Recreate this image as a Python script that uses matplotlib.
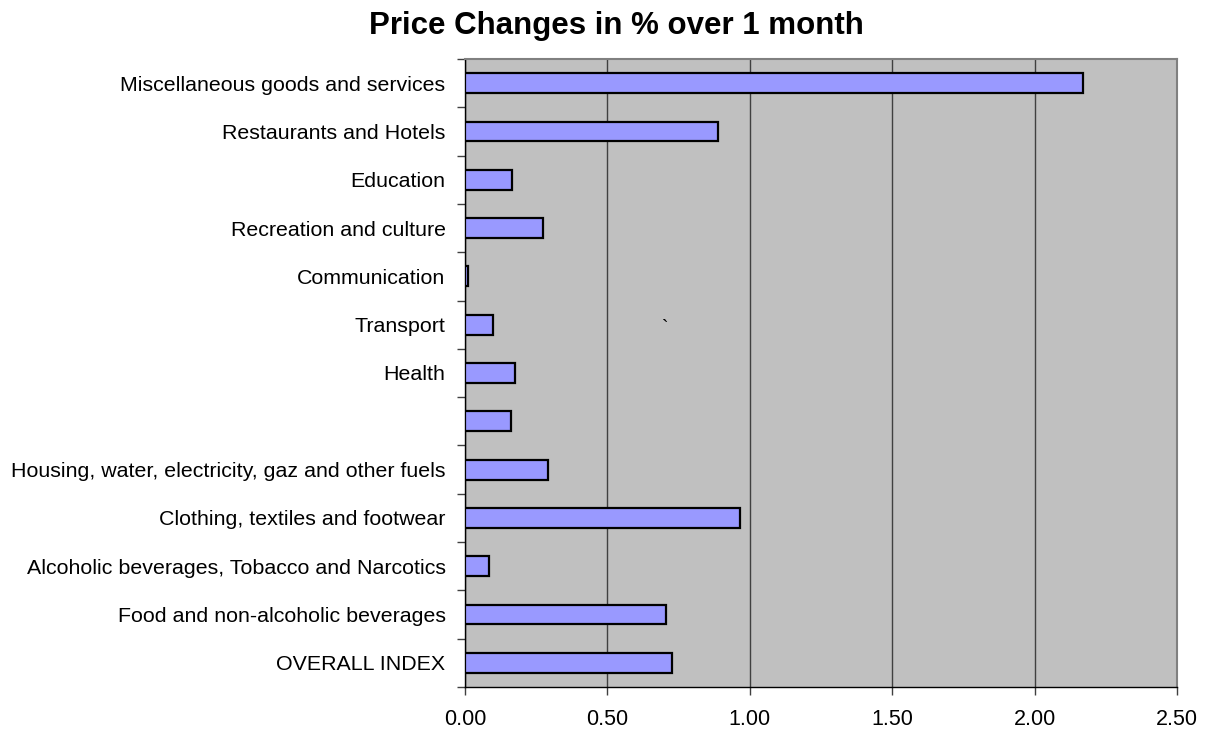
import matplotlib
matplotlib.use("Agg")
import matplotlib.pyplot as plt
import numpy as np

plt.rcParams['font.family'] = ['Liberation Sans', 'DejaVu Sans']

categories = ["OVERALL INDEX",
              "Food and non-alcoholic beverages",
              "Alcoholic beverages, Tobacco and Narcotics",
              "Clothing, textiles and footwear",
              "Housing, water, electricity, gaz and other fuels",
              "",
              "Health",
              "Transport",
              "Communication",
              "Recreation and culture",
              "Education",
              "Restaurants and Hotels",
              "Miscellaneous goods and services"]
values = [0.727, 0.705, 0.083, 0.964, 0.292, 0.161, 0.176, 0.10, 0.012,
          0.274, 0.166, 0.89, 2.17]
xticks = [0.0, 0.5, 1.0, 1.5, 2.0, 2.5]

fig = plt.figure(figsize=(12.16, 7.31), dpi=100)
ax = fig.add_axes([0.3824, 0.0602, 0.5855, 0.8591])
ax.set_facecolor('#C0C0C0')

y = np.arange(len(categories))
ax.barh(y, values, height=0.41, color='#9999FF', edgecolor='black',
        linewidth=1.6, zorder=3)

ax.set_xlim(0, 2.5)
ax.set_ylim(-0.5, len(categories) - 0.5)
ax.set_xticks(xticks)
ax.set_xticklabels(["%.2f" % t for t in xticks], fontsize=15.5)
ax.xaxis.grid(True, color='#404040', linewidth=1.0, zorder=0)
ax.set_axisbelow(True)

ax.set_yticks(y)
ax.set_yticklabels(categories, fontsize=15.4)
ax.tick_params(axis='y', length=0, pad=14)
ax.set_yticks(np.arange(-0.5, len(categories), 1.0), minor=True)
ax.tick_params(axis='y', which='minor', length=6, width=1.0, color='#404040')
ax.tick_params(axis='x', length=6, width=1.0, color='#404040', pad=10)

for s in ['top', 'right']:
    ax.spines[s].set_color('#808080')
    ax.spines[s].set_linewidth(1.5)
for s in ['left', 'bottom']:
    ax.spines[s].set_color('black')
    ax.spines[s].set_linewidth(1.0)

ax.text(0.281, 0.571, "`", transform=ax.transAxes, fontsize=14,
        ha='center', va='center')

fig.text(616 / 1216, 1 - 34 / 731, "Price Changes in % over 1 month",
         fontsize=22.5, fontweight='bold', ha='center', va='baseline')

fig.savefig("out.png", dpi=100)
